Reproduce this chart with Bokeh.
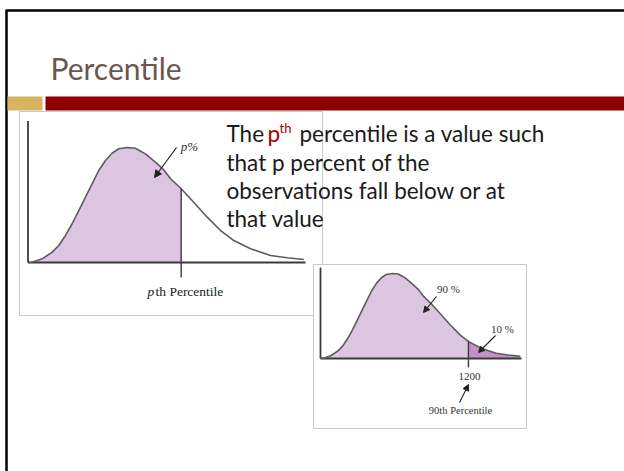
import numpy as np
from bokeh.plotting import figure
from bokeh.models import Range1d, Arrow, NormalHead
from bokeh.core.properties import value
from bokeh.embed import file_html
from bokeh.resources import INLINE

# ---------------- data ----------------
# right-skewed density shape, x in % of axis length, y in % of peak height
curve_x = [0.5, 1.5, 5.1, 8.7, 11.1, 13.5, 15.9, 18.3, 20.7, 23.1, 25.5, 27.9, 30.3, 32.7,
           35.7, 38.7, 42.3, 45.9, 48.5, 51.4, 55.2, 59.7, 64.6, 69.4, 74.2, 80.2, 87.4,
           93.4, 99.4]
curve_y = [0, 0.3, 3.2, 9.0, 14.8, 23.5, 33.7, 45.2, 56.8, 68.4, 80.0, 88.7, 95.0, 98.9,
           100, 99.4, 94.5, 87.2, 81.7, 72.8, 64.1, 52.4, 39.4, 27.8, 19.1, 11.9, 6.1,
           4.1, 2.6]
p_cut = 55.2        # position of the p-th percentile (left figure)
p90_cut = 73.6      # position of the 90th percentile (right figure)

title = "Percentile"
body_lines = ["that p percent of the", "observations fall below or at", "that value"]
line1 = ["The ", "p", "th", "percentile is a value such"]
left_label = ["p", "th Percentile"]
left_area_label = "p%"
right_labels = ["90 %", "10 %"]
right_value = "1200"
right_caption = "90th Percentile"

# ---------------- figure ----------------
W, H = 624, 471
p = figure(width=W, height=H, x_range=Range1d(0, W), y_range=Range1d(H, 0),
           min_border=0, toolbar_location=None, output_backend="svg",
           x_axis_location=None, y_axis_location=None,
           outline_line_color=None, background_fill_color="white",
           border_fill_color="white")
p.grid.visible = False

# diagram coordinate systems (origin px, px per unit)
D1 = dict(ox=27.5, sx=2.775, oy=262.0, sy=1.15)
D2 = dict(ox=320.0, sx=2.01, oy=358.0, sy=0.85)


def xr(d):
    return Range1d((0 - d["ox"]) / d["sx"], (W - d["ox"]) / d["sx"])


def yr(d):
    return Range1d((d["oy"] - H) / d["sy"], d["oy"] / d["sy"])


p.extra_x_ranges = {"d1x": xr(D1), "d2x": xr(D2)}
p.extra_y_ranges = {"d1y": yr(D1), "d2y": yr(D2)}

SERIF = value("Liberation Serif")
SANS = value("Lato")

# ---------------- slide decoration ----------------
p.segment(x0=[5, 6], y0=[10, 10], x1=[W, 6], y1=[10, H],
          line_color="black", line_width=2.5)
p.text(x=[50], y=[67], text=[title], text_font=SANS, text_font_size="30px",
       text_color="#6b5750", text_baseline="alphabetic", text_align="left")
p.quad(left=[7], right=[42], top=[96], bottom=[110], fill_color="#d8b360", line_color=None)
p.quad(left=[45], right=[W], top=[96], bottom=[110], fill_color="#8c0000", line_color=None)

# ---------------- left picture box ----------------
p.quad(left=[19], right=[322], top=[111], bottom=[315], fill_color="white",
       line_color="#c9c9c9", line_width=1)

cx = np.array(curve_x, dtype=float)
cy = np.array(curve_y, dtype=float)


def draw_diagram(xn, yn, cut, y_axis_top, tick_len, tail_fill=None):
    kw = dict(x_range_name=xn, y_range_name=yn)
    cut_y = float(np.interp(cut, cx, cy))
    m = cx < cut
    xs = np.concatenate([cx[m], [cut]])
    ys = np.concatenate([cy[m], [cut_y]])
    p.varea(x=xs, y1=0, y2=ys, fill_color="#dcc5e0", **kw)
    if tail_fill:
        xt = np.concatenate([[cut], cx[~m]])
        yt = np.concatenate([[cut_y], cy[~m]])
        p.varea(x=xt, y1=0, y2=yt, fill_color=tail_fill, **kw)
    p.segment(x0=[0, 0], y0=[0, 0], x1=[0, 100], y1=[y_axis_top, 0],
              line_color="#3a3a3a", line_width=1.8, **kw)
    p.line(cx, cy, line_color="#5c5c5c", line_width=1.6, line_join="round", **kw)
    p.segment(x0=[cut], y0=[cut_y], x1=[cut], y1=[-tick_len],
              line_color="#3a3a3a", line_width=1.4, **kw)


draw_diagram("d1x", "d1y", p_cut, 123, 13)

p.text(x=[189], y=[146], text=[left_area_label], text_font=SERIF, text_font_style="italic",
       text_font_size="13px", text_color="#333333", text_align="center", text_baseline="middle")
p.add_layout(Arrow(end=NormalHead(size=7, fill_color="#222222", line_color="#222222"),
                   x_start=176, y_start=147, x_end=154, y_end=177,
                   line_color="#222222", line_width=1.2))
p.text(x=[147], y=[291], text=[left_label[0]], text_font=SERIF, text_font_style="italic",
       text_font_size="13.5px", text_color="#222222", text_align="left", text_baseline="middle")
p.text(x=[155], y=[291], text=[left_label[1]], text_font=SERIF,
       text_font_size="13.5px", text_color="#222222", text_align="left", text_baseline="middle")

# ---------------- definition text ----------------
BODY = "#1a1a1a"
RED = "#a00000"
FS = "22.5px"
p.text(x=[226], y=[133], text=[line1[0]], text_font=SANS, text_font_size=FS,
       text_color=BODY, text_baseline="alphabetic", text_align="left")
p.text(x=[267], y=[133], text=[line1[1]], text_font=SANS, text_font_size=FS,
       text_color=RED, text_baseline="alphabetic", text_align="left")
p.text(x=[279], y=[127], text=[line1[2]], text_font=SANS, text_font_size="13px",
       text_color=RED, text_baseline="alphabetic", text_align="left")
p.text(x=[299], y=[133], text=[line1[3]], text_font=SANS, text_font_size=FS,
       text_color=BODY, text_baseline="alphabetic", text_align="left")
p.text(x=[226, 226, 226], y=[162, 190, 218], text=body_lines, text_font=SANS,
       text_font_size=FS, text_color=BODY, text_baseline="alphabetic", text_align="left")

# ---------------- right picture box ----------------
p.quad(left=[313], right=[526], top=[264], bottom=[428], fill_color="white",
       line_color="#c9c9c9", line_width=1)
draw_diagram("d2x", "d2y", p90_cut, 107, 10.5, tail_fill="#c590c8")

p.text(x=[448, 502], y=[288, 328], text=right_labels, text_font=SERIF,
       text_font_size="11px", text_color="#333333", text_align="center", text_baseline="middle")
p.text(x=[469], y=[376], text=[right_value], text_font=SERIF,
       text_font_size="11px", text_color="#333333", text_align="center", text_baseline="middle")
p.text(x=[460], y=[410], text=[right_caption], text_font=SERIF,
       text_font_size="10.5px", text_color="#333333", text_align="center", text_baseline="middle")
for xs_, ys_, xe_, ye_ in [(436, 296, 423, 312), (495, 335, 478, 352), (459, 402, 468, 384)]:
    p.add_layout(Arrow(end=NormalHead(size=6, fill_color="#222222", line_color="#222222"),
                       x_start=xs_, y_start=ys_, x_end=xe_, y_end=ye_,
                       line_color="#222222", line_width=1.1))

open("out.html", "w").write(file_html(p, INLINE))
